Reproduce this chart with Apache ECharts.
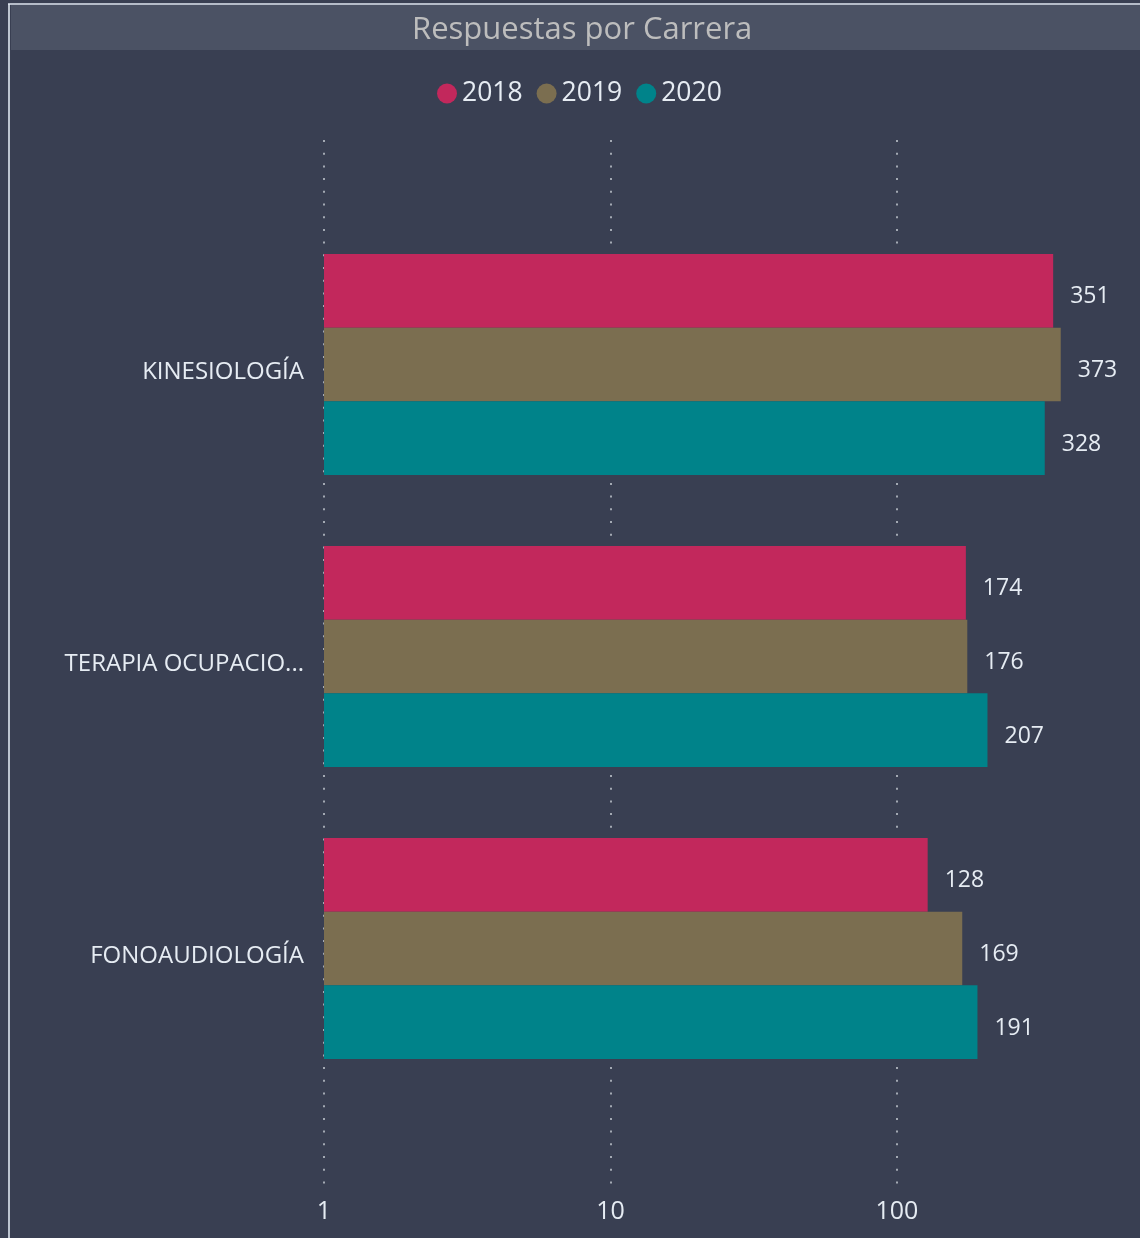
<!DOCTYPE html>
<html>
<head>
<meta charset="utf-8">
<script src="https://cdn.jsdelivr.net/npm/echarts@6/dist/echarts.min.js"></script>
<style>
html,body{margin:0;padding:0;background:#393f52;}
#chart{width:1140px;height:1238px;}
</style>
</head>
<body>
<div id="chart"></div>
<script>
const categories = ['KINESIOLOGÍA', 'TERAPIA OCUPACIONAL', 'FONOAUDIOLOGÍA'];
const seriesNames = ['2018', '2019', '2020'];
const values2018 = [351, 174, 128];
const values2019 = [373, 176, 169];
const values2020 = [328, 207, 191];
const tickValues = [1, 10, 100];
const colors = ['#c2285c', '#7b6e50', '#00838a'];

const FONT = '"Open Sans", "Noto Sans", sans-serif';
const chart = echarts.init(document.getElementById('chart'), null, {renderer: 'canvas'});

const labelStyle = {show: true, position: 'right', distance: 17, offset: [0, 6], color: '#e6ecf3', fontSize: 23, fontFamily: FONT};
const dataList = [values2018, values2019, values2020];

chart.setOption({
  backgroundColor: '#393f52',
  animation: false,
  color: colors,
  graphic: [
    {type: 'rect', shape: {x: 11, y: 5, width: 1129, height: 45}, style: {fill: '#4b5264'}, z: -10, silent: true},
    {type: 'line', shape: {x1: 8, y1: 4, x2: 1140, y2: 4}, style: {stroke: '#dfe7f0', lineWidth: 1.6}, z: 10},
    {type: 'line', shape: {x1: 9, y1: 4, x2: 9, y2: 1238}, style: {stroke: '#dfe7f0', lineWidth: 1.6}, z: 10}
  ],
  title: {
    text: 'Respuestas por Carrera',
    left: 407, top: 10,
    textStyle: {color: '#bdbdbd', fontSize: 31, fontWeight: 'normal', fontFamily: FONT}
  },
  legend: {
    data: seriesNames,
    left: 432, top: 75,
    icon: 'circle', itemWidth: 20, itemHeight: 20, itemGap: 14,
    textStyle: {color: '#e6ecf3', fontSize: 26.5, fontFamily: FONT}
  },
  grid: [
    {left: 324, top: 140, width: 817, height: 1050, outerBoundsMode: 'none'},
    {left: 324, top: 218.5, width: 817, height: 876, outerBoundsMode: 'none'}
  ],
  xAxis: [
    {
      gridIndex: 0, type: 'log', logBase: 10, min: 1, max: 711,
      axisLine: {show: false}, axisTick: {show: false},
      axisLabel: {color: '#e6ecf3', fontSize: 25, fontFamily: FONT, margin: 9, showMaxLabel: false,
        formatter: function (v) { return tickValues.indexOf(Math.round(v)) >= 0 ? String(Math.round(v)) : ''; }},
      splitLine: {show: true, lineStyle: {color: '#a3a9b3', width: 2, type: [2, 10.7]}}
    },
    {gridIndex: 1, type: 'log', logBase: 10, min: 1, max: 711, show: false}
  ],
  yAxis: [
    {gridIndex: 0, type: 'value', show: false},
    {
      gridIndex: 1, type: 'category', inverse: true, data: categories,
      axisLine: {show: false}, axisTick: {show: false}, splitLine: {show: false},
      axisLabel: {color: '#e6ecf3', fontSize: 24, fontFamily: FONT, margin: 20, width: 245, overflow: 'truncate', ellipsis: '...',
        verticalAlign: 'top', lineHeight: 16}
    }
  ],
  series: seriesNames.map((name, i) => ({
    name: name, type: 'bar', xAxisIndex: 1, yAxisIndex: 1,
    data: dataList[i], barWidth: 73.7, barGap: '0%',
    itemStyle: {color: colors[i]},
    label: labelStyle
  }))
});
</script>
</body>
</html>
